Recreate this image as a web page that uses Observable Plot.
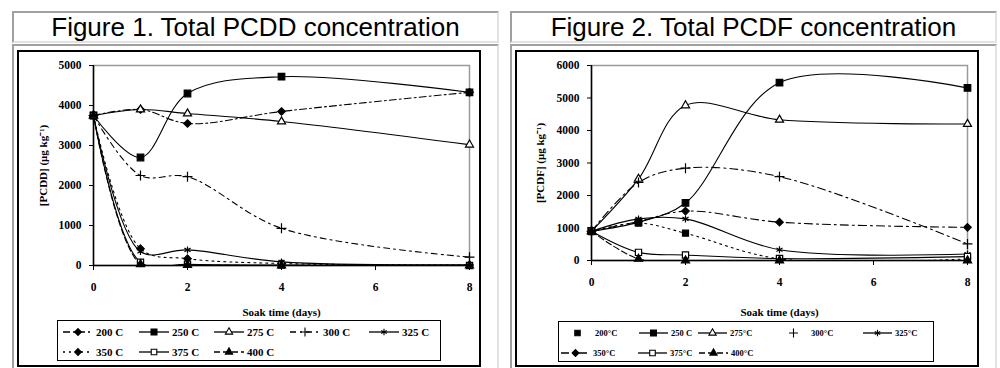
<!DOCTYPE html>
<html><head><meta charset="utf-8">
<script src="https://cdn.jsdelivr.net/npm/d3@7"></script>
<script src="https://cdn.jsdelivr.net/npm/@observablehq/plot@0.6"></script>
<style>
body{margin:0;background:#fff;width:1000px;height:368px;overflow:hidden;position:relative;font-family:"Liberation Serif",serif;}
.cell{position:absolute;box-sizing:border-box;border:2px solid;border-color:#a0a0a0 #e2e2e2 #e2e2e2 #a0a0a0;}
.title{font-family:"Liberation Sans",Arial,sans-serif;font-size:26px;text-align:center;line-height:28px;color:#000;}
.box{position:absolute;box-sizing:border-box;border:2px solid #000;pointer-events:none;}
.plot{position:absolute;}
.legend{position:absolute;box-sizing:border-box;border:1.5px solid #000;background:#fff;}
.item{position:absolute;display:flex;align-items:center;font-weight:bold;white-space:nowrap;height:14px;}
.item svg{display:block;margin-right:3px;}
</style></head><body>
<script>
// ---- data ----
const days = [0, 1, 2, 4, 8];
const dayTicks = [0, 2, 4, 6, 8];
const pcddTicks = [0, 1000, 2000, 3000, 4000, 5000];
const pcdfTicks = [0, 1000, 2000, 3000, 4000, 5000, 6000];
const namesPCDD = ["200 C", "250 C", "275 C", "300 C", "325 C", "350 C", "375 C", "400 C"];
const namesPCDF = ["200\u00B0C", "250 C", "275\u00B0C", "300\u00B0C", "325\u00B0C", "350\u00B0C", "375\u00B0C", "400\u00B0C"];

const pcdd200 = [3750, 3900, 3550, 3850, 4330];
const pcdd250 = [3750, 2700, 4300, 4720, 4330];
const pcdd275 = [3750, 3900, 3800, 3600, 3020];
const pcdd300 = [3750, 2250, 2220, 930, 210];
const pcdd325 = [3750, 350, 390, 90, 20];
const pcdd350 = [3750, 420, 170, 50, 10];
const pcdd375 = [3750, 80, 30, 10, 0];
const pcdd400 = [3750, 30, 10, 0, 0];

const pcdf200 = [900, 1150, 840, 50, 50];
const pcdf250 = [900, 1180, 1770, 5470, 5310];
const pcdf275 = [900, 2510, 4770, 4330, 4200];
const pcdf300 = [900, 2400, 2840, 2580, 510];
const pcdf325 = [900, 1280, 1280, 330, 200];
const pcdf350 = [900, 1200, 1520, 1180, 1020];
const pcdf375 = [900, 250, 170, 60, 120];
const pcdf400 = [900, 50, 0, 0, 0];

// ---- styles ----
const stylesPCDD = [
  {symbol: "diamond2", fill: "black", dash: "7,3,2,3", line: true, r: 3.4},
  {symbol: "square", fill: "black", dash: null, line: true, r: 3.7},
  {symbol: "triangle", fill: "white", dash: null, line: true, r: 3},
  {symbol: "plus", fill: "none", dash: "6,4,2,4", line: true, r: 3.3},
  {symbol: "asterisk", fill: "none", dash: null, line: true, r: 3.3},
  {symbol: "diamond2", fill: "black", dash: "2,4", line: true, r: 3.4},
  {symbol: "square", fill: "white", dash: null, line: true, r: 3.5},
  {symbol: "triangle", fill: "black", dash: "6,3", line: true, r: 3}
];
const stylesPCDF = [
  {symbol: "square", fill: "black", dash: "2,4", line: false, r: 3.4},
  {symbol: "square", fill: "black", dash: null, line: true, r: 3.7},
  {symbol: "triangle", fill: "white", dash: null, line: true, r: 3},
  {symbol: "plus", fill: "none", dash: "8,4,2,4", line: false, r: 3.3},
  {symbol: "asterisk", fill: "none", dash: null, line: true, r: 3.3},
  {symbol: "diamond2", fill: "black", dash: "8,4,2,4", line: true, r: 3.4},
  {symbol: "square", fill: "white", dash: null, line: true, r: 3.5},
  {symbol: "triangle", fill: "black", dash: "6,3", line: true, r: 3}
];
const symMap = {diamond2: d3.symbolDiamond2, square: d3.symbolSquare, triangle: d3.symbolTriangle, plus: d3.symbolPlus, asterisk: d3.symbolAsterisk};

function div(cls, x, y, w, h, parent = document.body) {
  const d = document.createElement("div");
  d.className = cls;
  Object.assign(d.style, {left: x + "px", top: y + "px", width: w + "px", height: h + "px"});
  parent.appendChild(d);
  return d;
}

function makePanel(o) {
  const rows = [];
  o.series.forEach((vals, si) => vals.forEach((v, i) => rows.push({day: days[i], value: v, s: si})));
  const marks = [
    Plot.frame({stroke: "#9a9a9a", strokeWidth: 1.5}),
    Plot.axisY({ticks: o.yTicks, tickSize: 4, tickPadding: 8, tickFormat: d => String(d), label: null, fontSize: 11.5}),
    Plot.axisX({ticks: dayTicks, tickSize: 5, tickPadding: 12, tickFormat: d => String(d), label: null, fontSize: 11.5}),
    Plot.ruleY([0], {stroke: "black", strokeWidth: 1.5}),
    Plot.ruleX([0], {stroke: "black", strokeWidth: 1.5})
  ];
  o.styles.forEach((st, si) => {
    const d = rows.filter(r => r.s === si);
    marks.push(Plot.line(d, {x: "day", y: "value", curve: "catmull-rom", stroke: "black", strokeWidth: 1.1, strokeDasharray: st.dash, clip: true}));
  });
  o.styles.forEach((st, si) => {
    const d = rows.filter(r => r.s === si);
    marks.push(Plot.dot(d, {x: "day", y: "value", symbol: st.symbol, r: st.r, fill: st.fill, stroke: "black", strokeWidth: 1.2}));
  });
  marks.push(Plot.text([o.yLabel], {text: d => d, frameAnchor: "left", dx: o.yLabelDx, rotate: -90, textAnchor: "middle", lineAnchor: "middle", fontSize: 11, fontWeight: "bold"}));
  marks.push(Plot.text(["Soak time (days)"], {text: d => d, frameAnchor: "bottom", dy: o.xLabelDy, textAnchor: "middle", lineAnchor: "middle", fontSize: 11, fontWeight: "bold"}));
  const chart = Plot.plot({
    width: o.width, height: 316,
    marginLeft: 76, marginRight: o.marginRight, marginTop: 15, marginBottom: o.marginBottom,
    x: {domain: [0, 8]}, y: {domain: [0, o.yMax]},
    style: {fontFamily: "'Liberation Serif', serif", fontSize: "11px", fontWeight: "bold", background: "white", color: "black", overflow: "visible"},
    marks
  });
  const holder = div("plot", o.x, 50, o.width, 316);
  holder.appendChild(chart);
  div("box", o.x, 50, o.width, 317);
  // legend
  const lg = div("legend", o.legend.x, o.legend.y, o.legend.w, 41);
  o.names.forEach((n, i) => {
    const row = i < 5 ? 0 : 1;
    const col = i < 5 ? i : i - 5;
    const it = document.createElement("div");
    it.className = "item";
    it.style.left = o.legend.cols[row][col] + "px";
    it.style.top = (row === 0 ? 4 : 24) + "px";
    it.style.fontSize = o.legend.fs + "px";
    const st = o.styles[i];
    const sw = o.legend.sw;
    const svg = d3.create("svg").attr("width", sw).attr("height", 12);
    if (st.line) svg.append("line").attr("x1", 0).attr("x2", sw).attr("y1", 6).attr("y2", 6)
      .attr("stroke", "black").attr("stroke-width", 1.3).attr("stroke-dasharray", st.dash);
    const rr = st.r * 0.9;
    svg.append("path").attr("transform", `translate(${sw / 2},6)`)
      .attr("d", d3.symbol(symMap[st.symbol], Math.PI * rr * rr)())
      .attr("fill", st.fill).attr("stroke", "black").attr("stroke-width", 1.1);
    it.appendChild(svg.node());
    const t = document.createElement("span");
    t.textContent = n;
    it.appendChild(t);
    lg.appendChild(it);
  });
}

// table cells
const t1 = div("cell title", 12, 11, 487, 32); t1.textContent = "Figure 1. Total PCDD concentration";
const t2 = div("cell title", 510, 11, 487, 32); t2.textContent = "Figure 2. Total PCDF concentration";
div("cell", 12, 44, 487, 330);
div("cell", 510, 44, 487, 330);

makePanel({
  x: 17, width: 464, marginRight: 12, marginBottom: 101, yMax: 5000, yTicks: pcddTicks,
  series: [pcdd200, pcdd250, pcdd275, pcdd300, pcdd325, pcdd350, pcdd375, pcdd400],
  styles: stylesPCDD, names: namesPCDD,
  yLabel: "[PCDD] (\u03BCg kg\u207B\u00B9)", yLabelDx: -50, xLabelDy: 47,
  legend: {x: 57, y: 320, w: 384, fs: 11, sw: 30, cols: [[5, 81, 156, 232, 311], [5, 81, 156]]}
});
makePanel({
  x: 515, width: 464, marginRight: 12, marginBottom: 106, yMax: 6000, yTicks: pcdfTicks,
  series: [pcdf200, pcdf250, pcdf275, pcdf300, pcdf325, pcdf350, pcdf375, pcdf400],
  styles: stylesPCDF, names: namesPCDF,
  yLabel: "[PCDF] (\u03BCg kg\u207B\u00B9)", yLabelDx: -51, xLabelDy: 52,
  legend: {x: 558, y: 321, w: 376, fs: 8.5, sw: 29, cols: [[4, 80, 139, 220, 304], [2, 79, 140]]}
});
</script>
</body></html>
